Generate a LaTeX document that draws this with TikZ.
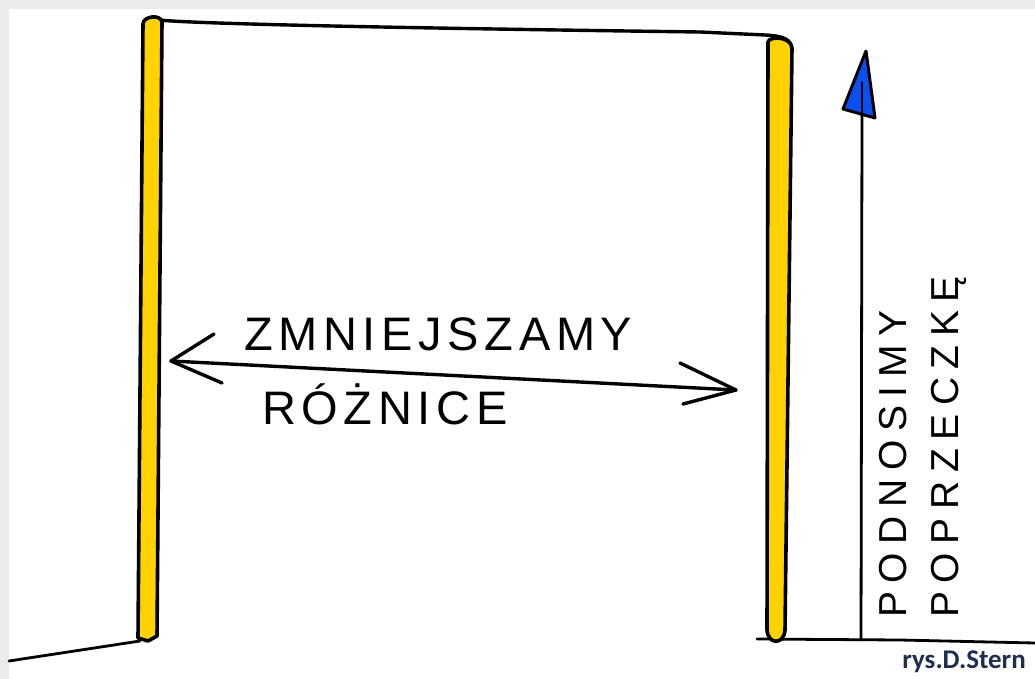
\documentclass[tikz,border=0pt]{standalone}
\usepackage{fontspec}
\setmainfont{Liberation Sans}
\newfontfamily\signfont{Carlito}
\definecolor{postyellow}{HTML}{FFD200}
\definecolor{arrowblue}{HTML}{0A4FF0}
\definecolor{signnavy}{HTML}{1F2D4F}
\definecolor{framegrey}{HTML}{EBEBEB}
\tikzset{
  ink/.style={draw=black, line width=3.4pt, line cap=round, line join=round},
  postshape/.style={ink, line width=3.6pt, fill=postyellow},
  hand/.style={font=\fontsize{47}{47}\selectfont\addfontfeature{LetterSpace=12}, inner sep=0pt, anchor=base west},
  vhand/.style={font=\fontsize{39}{39}\selectfont\addfontfeature{LetterSpace=22}, inner sep=0pt, rotate=90, anchor=base west},
}
\begin{document}
\begin{tikzpicture}[x=1pt,y=-1pt]
\useasboundingbox (0,0) rectangle (1035,679);
\fill[framegrey] (0,0) rectangle (1035,679);
\fill[white] (9,9) rectangle (1035,679);
% floor lines
\draw[ink, line width=2.8pt] (9,661) -- (140,641);
\draw[ink, line width=2.8pt] (757,639) -- (900,640) -- (1035,643);
% crossbar
\draw[ink] (158,20) .. controls (200,24) and (400,28) .. (700,32) -- (765,35) .. controls (785,36) and (791,40) .. (791,48);
% left post
\draw[postshape] (143,24) .. controls (143,16) and (161,14) .. (162,22) -- (157,636) -- (148,641) -- (138,638) -- cycle;
% right post
\draw[postshape] (768,42) .. controls (769,36) and (791,36) .. (792,48) -- (785,630) .. controls (784,645) and (768,645) .. (767,630) -- cycle;
% vertical arrow
\coordinate (vbase) at (861,640);
\coordinate (vtip) at (862,115);
\draw[ink, line width=2.8pt] (vbase) -- (vtip);
\draw[ink, fill=arrowblue, line width=3pt] (866,51) -- (843,109) -- (875,118) -- cycle;
\draw[ink, line width=2pt] (862,82) -- (862,115);
% double arrow
\coordinate (la) at (171,361);
\coordinate (ra) at (736,390);
\draw[ink] (la) -- (ra);
\draw[ink] (214,334) -- (la) -- (222,383);
\draw[ink] (680,363) -- (ra) -- (683,404);
% texts
\node[hand] (t1) at (244,350) {ZMNIEJSZAMY};
\node[hand] (t2) at (262,424) {RÓŻNICE};
\node[vhand] (t3) at (906,618) {PODNOSIMY};
\node[vhand] (t4) at (958,618) {POPRZECZKĘ};
\node[font=\signfont\bfseries\fontsize{27}{27}\selectfont, text=signnavy, inner sep=0pt, anchor=base east] (sig) at (1026,668) {rys.D.Stern};
\end{tikzpicture}
\end{document}
